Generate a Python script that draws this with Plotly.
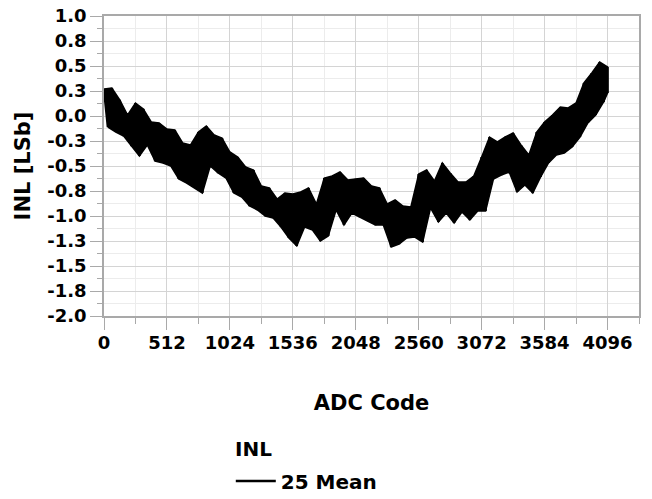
import numpy as np
import plotly.graph_objects as go

step_codes = np.arange(0, 4097, 64)  # 0 .. 4096
inl_high = [0.27, 0.28, 0.16, 0.01, 0.13, 0.07, -0.06, -0.07, -0.13, -0.14,
            -0.27, -0.29, -0.16, -0.10, -0.19, -0.22, -0.36, -0.41, -0.51, -0.54,
            -0.70, -0.72, -0.83, -0.77, -0.78, -0.76, -0.72, -0.88, -0.62, -0.60,
            -0.56, -0.64, -0.63, -0.62, -0.70, -0.72, -0.88, -0.84, -0.90, -0.91,
            -0.58, -0.54, -0.65, -0.47, -0.57, -0.66, -0.66, -0.60, -0.41, -0.21,
            -0.26, -0.21, -0.17, -0.29, -0.39, -0.16, -0.06, 0.01, 0.09, 0.08,
            0.13, 0.33, 0.43, 0.54, 0.49]
inl_low = [-0.11, -0.16, -0.20, -0.30, -0.40, -0.29, -0.45, -0.47, -0.50, -0.63,
           -0.67, -0.72, -0.77, -0.50, -0.57, -0.62, -0.77, -0.81, -0.90, -0.94,
           -1.00, -1.02, -1.11, -1.22, -1.30, -1.11, -1.14, -1.25, -1.20, -0.94,
           -1.09, -0.97, -1.01, -1.05, -1.09, -1.09, -1.31, -1.28, -1.22, -1.21,
           -1.26, -0.92, -1.06, -0.97, -1.07, -0.96, -1.04, -0.95, -0.95, -0.63,
           -0.59, -0.56, -0.76, -0.69, -0.77, -0.61, -0.47, -0.39, -0.37, -0.31,
           -0.21, -0.07, 0.01, 0.14, 0.23]

x_tickvals = [0, 512, 1024, 1536, 2048, 2560, 3072, 3584, 4096]
x_ticktext = ["0", "512", "1024", "1536", "2048", "2560", "3072", "3584", "4096"]
y_tickvals = [1.0, 0.75, 0.5, 0.25, 0.0, -0.25, -0.5, -0.75, -1.0, -1.25, -1.5, -1.75, -2.0]
y_ticktext = ["1.0", "0.8", "0.5", "0.3", "0.0", "-0.3", "-0.5", "-0.8", "-1.0",
              "-1.3", "-1.5", "-1.8", "-2.0"]

# ---- build zig-zag trace (high at each step, low half a step later) ----
hi_x = list(step_codes)
lo_x = [min(c + 32, 4096) for c in step_codes]
zig_x, zig_y = [], []
for hx, hy, lx, ly in zip(hi_x, inl_high, lo_x, inl_low):
    zig_x += [hx, lx]
    zig_y += [hy, ly]

FONT = "DejaVu Sans"
fig = go.Figure()
# band between the read envelopes (dense noisy trace renders as a solid band)
fig.add_trace(go.Scatter(
    x=hi_x + lo_x[::-1], y=inl_high + inl_low[::-1],
    fill="toself", fillcolor="black", line=dict(color="black", width=1.5),
    mode="lines", showlegend=False, hoverinfo="skip"))
fig.add_trace(go.Scatter(
    x=zig_x, y=zig_y, mode="lines", name="25 Mean",
    line=dict(color="black", width=2.5)))

grid_major = "#d4d4d4"
grid_minor = "#ececec"
axis_col = "#a9a9a9"

fig.update_xaxes(
    range=[0, 4352], tickvals=x_tickvals, ticktext=x_ticktext,
    showgrid=True, gridcolor=grid_major, gridwidth=1,
    ticks="outside", ticklen=12, tickcolor=axis_col, tickwidth=1,
    showline=True, linecolor=axis_col, linewidth=1.5, mirror=True,
    zeroline=False, ticklabelstandoff=-2, ticklabeloverflow="allow",
    minor=dict(dtick=256, tick0=0, showgrid=True, gridcolor=grid_minor,
               ticks="outside", ticklen=6, tickcolor=axis_col),
    tickfont=dict(family=FONT, size=18, color="black", weight="bold"),
    title=dict(text="ADC Code", standoff=43,
               font=dict(family=FONT, size=21, color="black", weight="bold")),
)
fig.update_yaxes(
    range=[-2.0, 1.0], tickvals=y_tickvals, ticktext=y_ticktext,
    showgrid=True, gridcolor=grid_major, gridwidth=1,
    ticks="outside", ticklen=12, tickcolor=axis_col, tickwidth=1,
    showline=True, linecolor=axis_col, linewidth=1.5, mirror=True,
    zeroline=False, ticklabeloverflow="allow",
    minor=dict(dtick=0.125, tick0=0, showgrid=True, gridcolor=grid_minor,
               ticks="outside", ticklen=5, tickcolor=axis_col),
    tickfont=dict(family=FONT, size=18, color="black", weight="bold"),
    title=dict(text="INL [LSb]", standoff=11,
               font=dict(family=FONT, size=21, color="black", weight="bold")),
)

fig.add_annotation(
    text="INL", xref="paper", yref="paper", x=0.241, y=-0.443,
    xanchor="left", yanchor="middle", showarrow=False,
    font=dict(family=FONT, size=20, color="black", weight="bold"))

fig.update_layout(
    width=652, height=499, autosize=False,
    margin=dict(l=104, r=13, t=16, b=183, autoexpand=False),
    plot_bgcolor="white", paper_bgcolor="white",
    showlegend=True,
    legend=dict(
        x=0.237, y=-0.55, xanchor="left", yanchor="middle",
        font=dict(family=FONT, size=20, color="black", weight="bold"),
        itemwidth=40, bgcolor="rgba(0,0,0,0)",
    ),
)

fig.write_html("out.html", config={"displayModeBar": False},
               post_script="document.body.style.margin='0';")
